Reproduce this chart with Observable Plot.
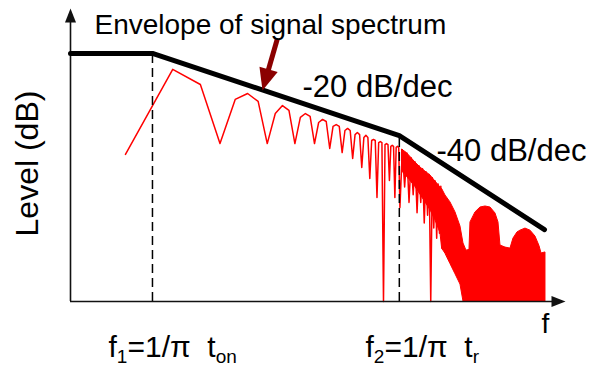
<!DOCTYPE html>
<html><head><meta charset="utf-8">
<script src="https://cdn.jsdelivr.net/npm/d3@7"></script>
<script src="https://cdn.jsdelivr.net/npm/@observablehq/plot@0.6"></script>
<style>html,body{margin:0;padding:0;background:#fff;} #chart{width:594px;height:368px;overflow:hidden;}</style>
</head><body><div id="chart"></div>
<script>
// Harmonic spectrum (harmonic number, level in dB)
const lineFreq = [1,2,3,4,5,6,7,8,9,10,11,12,13,14,15,16,17,18,19,20,21,22,23,24,25,26,27,28,29,30,31,32,33,34,35,36,37,38,39,40,41,42,43,44,45,46,47,48,49,50,51,52,53,54,55,56,58,60,62,64,66,68,70,72,74,76,78,80,82,84,86,88,90,92,94,96,98,100,102,104];
const lineDb = [-39.3,-6.2,-12.1,-35.1,-17.9,-15.6,-18.7,-35.1,-23.4,-20.3,-22.2,-35.1,-24.9,-23.4,-24.5,-35.1,-26.9,-25.7,-26.5,-37.0,-28.4,-27.7,-28.4,-38.6,-30.0,-29.2,-30.0,-40.9,-31.6,-30.8,-31.6,-44.4,-32.7,-31.9,-32.7,-48.7,-33.9,-33.5,-33.9,-56.1,-34.7,-34.3,-34.7,-96.6,-35.5,-35.1,-35.5,-49.5,-36.2,-35.8,-36.2,-56.1,-36.6,-36.2,-36.6,-60,-37.5,-52,-38.8,-58,-40.6,-55,-42.3,-62,-43.7,-58,-44.9,-66,-46.1,-63,-47.1,-96.6,-48.4,-68,-49.7,-72,-50.8,-70,-51.7,-76];
// Dense high-frequency part: upper and lower hull of the red fill
const bandFreq = [58,62,66,70.3,75.7,81.4,87.6,94.3,101.5,104,109.2,117.5,126.5,136.1,142.2,148.6,155.3,157.6,169.6,182.5,196.4,211.3,227.4,237.6,244.7,263.3,283.3,296,314,328.1,353.1,379.9,408.8,433.5,446.6,473.4];
const bandHigh = [-37.5,-38.8,-40.6,-42.5,-44.4,-46.0,-47.5,-49.9,-52.2,-52.8,-55.3,-58.0,-61.9,-67.4,-74.0,-76.8,-76.5,-65.8,-61.9,-60.0,-59.6,-60.0,-62.3,-65.8,-74.8,-75.6,-76.0,-72.1,-69.7,-69.0,-68.2,-69.0,-71.3,-75.0,-77.9,-77.5];
const bandLow = [-46,-48,-50,-52,-55,-58,-61,-65,-70,-76,-78,-82,-86,-90,-96.6,-96.6,-96.6,-96.6,-96.6,-96.6,-96.6,-96.6,-96.6,-96.6,-96.6,-96.6,-96.6,-96.6,-96.6,-96.6,-96.6,-96.6,-96.6,-96.6,-96.6,-96.6];
// Envelope (asymptotes)
const envelopeFreq = [0.4466, 1.486, 55.5, 466.5];
const envelopeDb = [0, 0, -32, -68.6];
const cornerFreq = [1.486, 55.5];
const cornerDb = [0, -32];
const cornerLabels = ["f_{1}=1/π\u00a0\u00a0t_{on}", "f_{2}=1/π\u00a0\u00a0t_{r}"];
const slopeLabels = ["-20 dB/dec", "-40 dB/dec"];
const titleText = "Envelope of signal spectrum";
const yLabel = "Level (dB)";
const xLabel = "f";

const xMin = 0.4466, xMax = 635, yMin = -96.6, yMax = 17.5;
const FONT = "Liberation Sans, Arial, Helvetica, sans-serif";

const lineData = lineFreq.map((f, i) => ({f, db: lineDb[i]}));
const bandData = bandFreq.map((f, i) => ({f, hi: bandHigh[i], lo: bandLow[i]}));
const envData = envelopeFreq.map((f, i) => ({f, db: envelopeDb[i]}));
const cornerData = cornerFreq.map((f, i) => ({f, db: cornerDb[i]}));

function head(points) {
  return {draw(ctx) { ctx.moveTo(0, 0); for (const [a, b] of points) ctx.lineTo(a, b); ctx.closePath(); }};
}
const upHead = head([[-5.5, 14], [5.5, 14]]);
const rightHead = head([[-14, -5.5], [-14, 5.5]]);
const annHead = head([[15.2, -18.5], [-3.0, -23.7]]);

const txt = (s, o) => Plot.text([s], {text: d => d, frameAnchor: "top-left", textAnchor: "start", lineAnchor: "bottom", fill: "#000", fontFamily: FONT, ...o});

const plot = Plot.plot({
  width: 594, height: 368,
  marginLeft: 70, marginRight: 29, marginTop: 8, marginBottom: 67,
  style: {background: "#fff", fontFamily: FONT},
  x: {type: "log", domain: [xMin, xMax], axis: null},
  y: {domain: [yMin, yMax], axis: null},
  marks: [
    Plot.areaY(bandData, {x: "f", y1: "lo", y2: "hi", fill: "#ff0000", stroke: "#ff0000", strokeWidth: 1}),
    Plot.line(lineData, {x: "f", y: "db", stroke: "#ff0000", strokeWidth: 1.5}),
    Plot.ruleX(cornerData, {x: "f", y1: yMin, y2: "db", stroke: "#000", strokeWidth: 1.5, strokeDasharray: "9,5"}),
    Plot.ruleX([xMin], {y1: yMin, y2: 13.6, stroke: "#111", strokeWidth: 1.6}),
    Plot.ruleY([yMin], {x1: xMin, x2: 532, stroke: "#111", strokeWidth: 1.6}),
    Plot.dot([0], {x: xMin, y: yMax, symbol: upHead, fill: "#111", stroke: "none"}),
    Plot.dot([0], {x: xMax, y: yMin, symbol: rightHead, fill: "#111", stroke: "none"}),
    Plot.line(envData, {x: "f", y: "db", stroke: "#000", strokeWidth: 5, strokeLinecap: "round", strokeLinejoin: "round"}),
    Plot.link([0], {x1: 9.29, y1: 5.84, x2: 7.91, y2: -8.96, stroke: "#8b0000", strokeWidth: 5}),
    Plot.dot([0], {x: 7.46, y: -14.4, symbol: annHead, fill: "#8b0000", stroke: "none"}),
    txt(titleText, {dx: 24, dy: 25, fontSize: 28}),
    txt(slopeLabels[0], {dx: 232, dy: 88, fontSize: 31}),
    txt(slopeLabels[1], {dx: 366, dy: 152, fontSize: 31}),
    txt(xLabel, {dx: 471, dy: 324, fontSize: 28}),
    txt(cornerLabels[0], {dx: 38, dy: 348, fontSize: 30}),
    txt(cornerLabels[1], {dx: 295, dy: 348, fontSize: 30}),
    txt(yLabel, {dx: -43, dy: 155, rotate: -90, textAnchor: "middle", lineAnchor: "middle", fontSize: 32})
  ]
});
document.getElementById("chart").append(plot);

// subscripts: f_{1} -> f with a lowered, smaller "1"
d3.select(plot).selectAll("text").each(function () {
  const s = this.textContent;
  if (!s.includes("_{")) return;
  const parts = s.split(/_\{([^}]*)\}/);
  this.textContent = "";
  let shifted = false;
  parts.forEach((p, i) => {
    if (!p) return;
    const t = d3.select(this).append("tspan").text(p);
    if (i % 2 === 1) { t.attr("font-size", 19).attr("dy", 6); shifted = true; }
    else if (shifted) { t.attr("dy", -6); shifted = false; }
  });
});
</script>
</body></html>
